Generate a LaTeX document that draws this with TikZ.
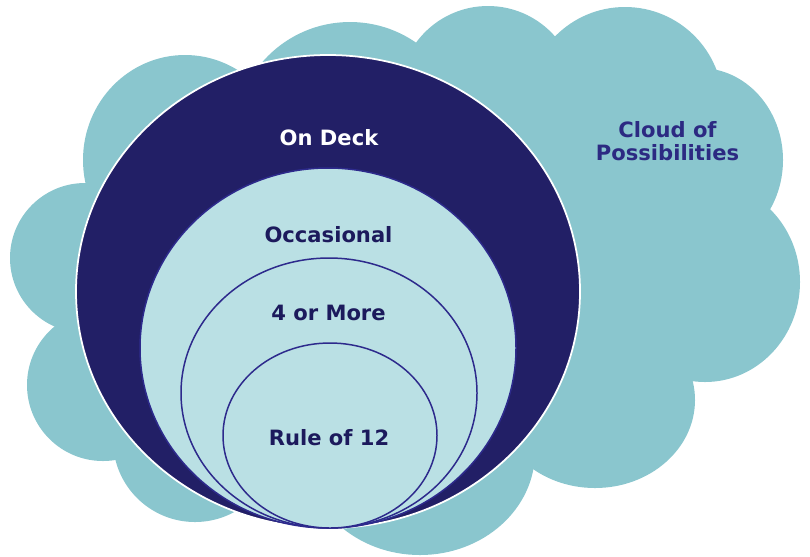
\documentclass[tikz,border=0pt]{standalone}
\usepackage{fontspec}
\setmainfont{DejaVu Sans}
\usepackage{tikz}
\usetikzlibrary{positioning}
\definecolor{cteal}{HTML}{8AC6CE}
\definecolor{cnavy}{HTML}{221F66}
\definecolor{clight}{HTML}{BAE0E4}
\definecolor{cring}{HTML}{2D2A8C}
\definecolor{ctext}{HTML}{1C1A5C}
\definecolor{ccloud}{HTML}{2C2A82}
\tikzset{
  % one puff of the cloud
  puff/.style  = {fill=cteal},
  ring/.style  = {draw=cring, line width=0.85pt, fill=clight},
  lbl/.style   = {font=\fontsize{12}{12.5}\selectfont\bfseries, text=ctext, anchor=base, align=center},
}
\begin{document}
\begin{tikzpicture}[x=0.02cm,y=-0.02cm]
\useasboundingbox (0,0) rectangle (810,556);
% cloud: body plus puffs
\fill[puff] (92,192) -- (265,65) -- (422,60) -- (557,48) -- (710,80) -- (765,208)
  -- (685,385) -- (530,465) -- (340,528) -- (122,452) -- (62,330) -- cycle;
\fill[puff] (185,160) ellipse [x radius=102, y radius=105];
\fill[puff] (85,258)  circle (75);
\fill[puff] (103,385) circle (76);
\fill[puff] (195,440) circle (82);
\fill[puff] (420,452) ellipse [x radius=115, y radius=103];
\fill[puff] (595,400) ellipse [x radius=100, y radius=88];
\fill[puff] (705,282) ellipse [x radius=95,  y radius=100];
\fill[puff] (700,160) ellipse [x radius=83,  y radius=92];
\fill[puff] (625,105) circle (98);
\fill[puff] (488,95)  circle (89);
\fill[puff] (350,138) circle (116);
% nested rings, all touching at the bottom
\filldraw[fill=cnavy, draw=white, line width=1pt] (328,291.5) ellipse [x radius=252, y radius=236.5];
\filldraw[ring] (328,348) ellipse [x radius=188, y radius=180];
\draw[ring] (329,393) ellipse [x radius=148, y radius=135];
\draw[ring] (330,435.5) ellipse [x radius=107, y radius=92.5];
% labels
\node[lbl, text=white] (ondeck) at (329,145) {On Deck};
\node[lbl] (occasional) at (328.5,242) {Occasional};
\node[lbl] (fourmore) at (328.5,320) {4 or More};
\node[lbl] (ruletwelve) at (329,445) {Rule of 12};
\node[lbl, text=ccloud] (cloudof) at (667.5,137) {Cloud of};
\node[lbl, text=ccloud] (possib) at (667.5,160) {Possibilities};
\end{tikzpicture}
\end{document}
